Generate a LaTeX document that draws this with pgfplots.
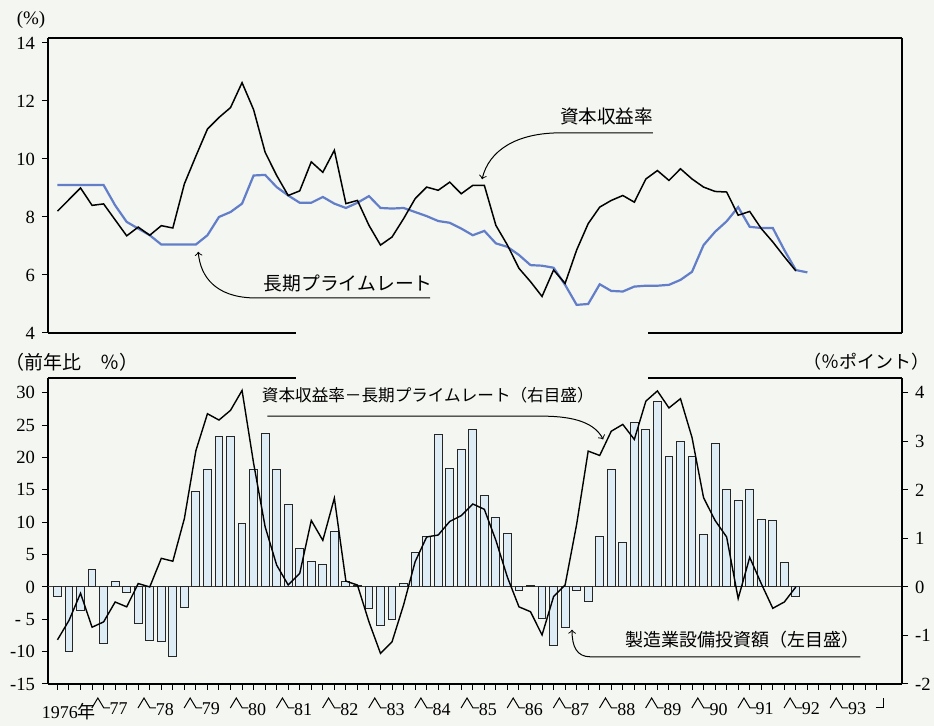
\documentclass[border=0pt]{standalone}
\usepackage{pgfplots}
\pgfplotsset{compat=1.18}
\usepackage{pgfplotstable}
\usepackage{fontspec}
\setmainfont{Liberation Serif}
\newfontfamily\jp{Noto Sans CJK JP}
\definecolor{bg}{RGB}{244,246,241}
\definecolor{primecol}{RGB}{98,126,200}
\definecolor{barfill}{RGB}{222,236,246}
\tikzset{jpfont/.style={font=\jp\fontsize{#1}{11}\selectfont}}

% 資本収益率 (top, black)
\pgfplotstableread{
i v
0 8.2
1 8.6
2 9.0
3 8.4
4 8.45
5 7.9
6 7.35
7 7.65
8 7.37
9 7.7
10 7.62
11 9.14
12 10.1
13 11.03
14 11.43
15 11.77
16 12.63
17 11.7
18 10.23
19 9.43
20 8.74
21 8.9
22 9.9
23 9.54
24 10.3
25 8.46
26 8.57
27 7.71
28 7.03
29 7.31
30 7.94
31 8.63
32 9.03
33 8.92
34 9.2
35 8.8
36 9.09
37 9.09
38 7.71
39 7.03
40 6.23
41 5.77
42 5.26
43 6.17
44 5.71
45 6.86
46 7.77
47 8.34
48 8.57
49 8.74
50 8.51
51 9.31
52 9.6
53 9.26
54 9.66
55 9.31
56 9.03
57 8.88
58 8.86
59 8.06
60 8.19
61 7.6
62 7.14
63 6.63
64 6.14
}\tabCap

% 長期プライムレート (top, blue)
\pgfplotstableread{
i v
0 9.1
1 9.1
2 9.1
3 9.1
4 9.1
5 8.4
6 7.83
7 7.6
8 7.37
9 7.05
10 7.05
11 7.05
12 7.05
13 7.37
14 8.0
15 8.17
16 8.46
17 9.43
18 9.45
19 9.03
20 8.74
21 8.49
22 8.49
23 8.69
24 8.46
25 8.31
26 8.49
27 8.72
28 8.31
29 8.29
30 8.31
31 8.17
32 8.03
33 7.86
34 7.8
35 7.6
36 7.37
37 7.52
38 7.09
39 6.97
40 6.69
41 6.34
42 6.32
43 6.25
44 5.66
45 4.97
46 5.0
47 5.68
48 5.45
49 5.43
50 5.6
51 5.63
52 5.63
53 5.66
54 5.83
55 6.11
56 7.03
57 7.49
58 7.85
59 8.34
60 7.66
61 7.62
62 7.62
63 6.86
64 6.17
65 6.09
}\tabPrime

% 製造業設備投資額 (bottom, bars, left axis)
\pgfplotstableread{
i v
0 -1.5
1 -10.0
2 -3.6
3 2.7
4 -8.8
5 0.9
6 -0.8
7 -5.6
8 -8.2
9 -8.4
10 -10.8
11 -3.1
12 14.8
13 18.1
14 23.2
15 23.2
16 9.8
17 18.1
18 23.7
19 18.1
20 12.7
21 5.9
22 4.0
23 3.4
24 8.5
25 0.9
26 0.3
27 -3.4
28 -5.9
29 -5.1
30 0.6
31 5.4
32 7.8
33 23.6
34 18.3
35 21.3
36 24.3
37 14.1
38 10.7
39 8.2
40 -0.6
41 0.2
42 -4.9
43 -9.1
44 -6.2
45 -0.5
46 -2.3
47 7.8
48 18.2
49 6.8
50 25.4
51 24.4
52 28.6
53 20.1
54 22.5
55 20.1
56 8.1
57 22.1
58 15.1
59 13.3
60 15.0
61 10.4
62 10.3
63 3.8
64 -1.4
}\tabBars

% 資本収益率－長期プライムレート (bottom, right axis, %pt)
\pgfplotstableread{
i v
0 -1.09
1 -0.69
2 -0.13
3 -0.83
4 -0.72
5 -0.31
6 -0.41
7 0.07
8 0.0
9 0.59
10 0.53
11 1.41
12 2.81
13 3.57
14 3.44
15 3.64
16 4.05
17 2.55
18 1.24
19 0.45
20 0.04
21 0.28
22 1.37
23 0.96
24 1.83
25 0.12
26 0.04
27 -0.72
28 -1.37
29 -1.13
30 -0.37
31 0.52
32 1.03
33 1.07
34 1.35
35 1.47
36 1.71
37 1.6
38 0.96
39 0.2
40 -0.41
41 -0.51
42 -0.99
43 -0.2
44 0.04
45 1.29
46 2.8
47 2.71
48 3.21
49 3.35
50 3.04
51 3.83
52 4.04
53 3.69
54 3.88
55 3.08
56 1.84
57 1.37
58 1.03
59 -0.24
60 0.61
61 0.07
62 -0.44
63 -0.31
64 0.0
}\tabDiff

\begin{document}
\begin{tikzpicture}
\fill[bg] (0,0) rectangle (467pt,-363pt);
\useasboundingbox (0,0) rectangle (467pt,-363pt);

\pgfplotsset{
  common/.style={
    scale only axis, width=427pt, anchor=south west,
    xmin=-0.82, xmax=73.2, clip=false,
    tick align=outside, major tick length=3pt, minor tick length=3pt,
    tick style={black, line width=0.5pt},
    tick label style={font=\fontsize{9.3}{10}\selectfont},
    /pgf/number format/assume math mode=true,
  },
}

% ---------- top panel ----------
\begin{axis}[common,
  at={(24pt,-166.5pt)}, height=147.5pt,
  ymin=4, ymax=14.17,
  hide x axis,
  ytick={4,6,...,14}, ytick pos=left,
  axis line style={line width=1.3pt},
]
\addplot[primecol, line width=1.1pt] table[x=i,y=v]{\tabPrime};
\addplot[black, line width=0.75pt] table[x=i,y=v]{\tabCap};
\draw[line width=1.3pt] (axis cs:-0.82,14.17) -- (axis cs:73.2,14.17);
\draw[line width=1.3pt] (axis cs:-0.82,4) -- (axis cs:20.7,4);
\draw[line width=1.3pt] (axis cs:51.2,4) -- (axis cs:73.2,4);
% annotations
\node[jpfont=9.4] at (axis cs:25.2,5.72) {長期プライムレート};
\draw[line width=0.5pt, ->] (axis cs:32.3,5.21) -- (axis cs:16.9,5.21)
   .. controls (axis cs:13.8,5.25) and (axis cs:12.4,5.9) .. (axis cs:12.2,6.8);
\node[jpfont=9.3] at (axis cs:47.6,11.45) {資本収益率};
\draw[line width=0.5pt, ->] (axis cs:51.6,10.9) -- (axis cs:43.6,10.9)
   .. controls (axis cs:39.8,10.9) and (axis cs:37.4,10.3) .. (axis cs:36.8,9.3);
\end{axis}

% ---------- bottom panel, left axis ----------
\begin{axis}[common,
  at={(24pt,-342pt)}, height=153pt,
  ymin=-15, ymax=32.3,
  axis x line*=bottom, axis y line*=left,
  axis line style={-, line width=1.3pt},
  xtick={0,...,71}, xticklabels={},
  extra x ticks={1.0,5.3,9.3,13.3,17.3,21.3,25.3,29.3,33.3,37.3,41.3,45.3,49.3,53.3,57.3,61.3,65.3,69.3},
  extra x tick labels={1976{\jp 年},77,78,79,80,81,82,83,84,85,86,87,88,89,90,91,92,93},
  extra x tick style={major tick length=0pt, tick style={draw=none},
     tick label style={font=\fontsize{9}{10}\selectfont, yshift=-6pt}},
  ytick={-15,-10,...,30},
  yticklabels={-15,-10,- 5,0,5,10,15,20,25,30},
]
\draw[black!75, line width=0.5pt] (axis cs:-0.82,0) -- (axis cs:73.2,0);
\addplot[ybar, bar width=0.68, draw=black!85, fill=barfill, line width=0.5pt]
   table[x=i,y=v]{\tabBars};
\draw[line width=1.3pt] (axis cs:-0.82,32.3) -- (axis cs:20.7,32.3);
\draw[line width=1.3pt] (axis cs:51.2,32.3) -- (axis cs:73.2,32.3);
% year marks
\pgfplotsinvokeforeach{3.5,7.5,11.5,15.5,19.5,23.5,27.5,31.5,35.5,39.5,43.5,47.5,51.5,55.5,59.5,63.5,67.5}{
  \draw[line width=0.5pt] ([xshift=-3pt,yshift=-12pt]axis cs:#1,-15) -- ++(3pt,5pt) -- ++(3pt,-5pt) -- ++(3pt,0pt);
}
\draw[line width=0.5pt] ([xshift=-4pt,yshift=-12pt]axis cs:71.6,-15) -- ++(4pt,0pt) -- ++(0pt,5pt);
% annotations
\node[jpfont=8.3] at (axis cs:32.1,29.6) {資本収益率－長期プライムレート（右目盛）};
\draw[line width=0.5pt, ->] (axis cs:18.2,26.4) -- (axis cs:42,26.4)
   .. controls (axis cs:45,26.4) and (axis cs:46.6,25.2) .. (axis cs:47.3,22.8);
\node[jpfont=9] at (axis cs:59.4,-8.2) {製造業設備投資額（左目盛）};
\draw[line width=0.5pt, ->] (axis cs:69.6,-10.8) -- (axis cs:46.2,-10.8)
   .. controls (axis cs:45,-10.8) and (axis cs:44.6,-9.2) .. (axis cs:44.6,-6.6);
\end{axis}

% ---------- bottom panel, right axis ----------
\begin{axis}[common,
  at={(24pt,-342pt)}, height=153pt,
  ymin=-2, ymax=4.3067,
  axis x line=none, axis y line*=right,
  axis line style={-, line width=1.3pt},
  ytick={-2,...,4},
  yticklabels={-2,-1,0,1,2,3,4},
]
\addplot[black, line width=0.7pt] table[x=i,y=v]{\tabDiff};
\end{axis}

% unit labels
\node[font=\fontsize{9.5}{10}\selectfont] at (15.5pt,-10pt) {(\%)};
\node[jpfont=9.5] at (36pt,-181pt) {（前年比　％）};
\node[jpfont=9] at (433pt,-181pt) {（％ポイント）};
\end{tikzpicture}
\end{document}
